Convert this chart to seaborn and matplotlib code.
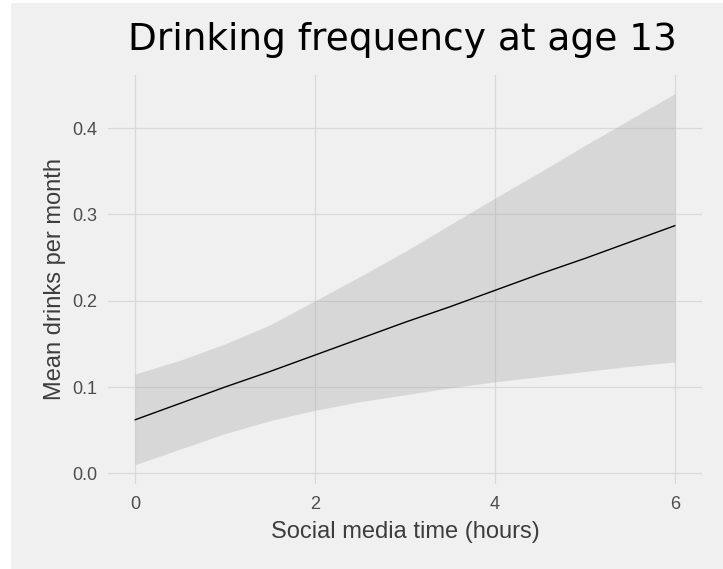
import numpy as np
import pandas as pd
import matplotlib
matplotlib.use("Agg")
import matplotlib.pyplot as plt
import seaborn as sns
from matplotlib.patches import Rectangle

# values
hours = [0, 0.5, 1, 1.5, 2, 2.5, 3, 3.5, 4, 4.5, 5, 5.5, 6]
mean_drinks = [0.062, 0.081, 0.100, 0.118, 0.137, 0.156, 0.175, 0.193,
               0.212, 0.231, 0.249, 0.268, 0.287]
upper_ci = [0.115, 0.131, 0.150, 0.172, 0.200, 0.228, 0.257, 0.288,
            0.319, 0.349, 0.380, 0.410, 0.440]
lower_ci = [0.010, 0.028, 0.046, 0.061, 0.073, 0.083, 0.091, 0.099,
            0.106, 0.112, 0.118, 0.124, 0.129]

x_ticks = [0, 2, 4, 6]
y_ticks = [0.0, 0.1, 0.2, 0.3, 0.4]

title = "Drinking frequency at age 13"
x_label = "Social media time (hours)"
y_label = "Mean drinks per month"

df = pd.DataFrame({"hours": hours, "mean": mean_drinks,
                   "lower": lower_ci, "upper": upper_ci})

sns.set_theme(style="white")
plt.rcParams["font.family"] = ["Liberation Sans", "DejaVu Sans"]

bg = "#f0f0f0"
fig = plt.figure(figsize=(7.23, 5.69), dpi=100, facecolor="white")
fig.patches.append(Rectangle((11 / 723, 0), 1, 1 - 3 / 569, transform=fig.transFigure,
                             facecolor=bg, edgecolor="none", zorder=-10))

ax = fig.add_axes([108 / 723, (569 - 483.6) / 569, 594 / 723, 408.6 / 569])
ax.set_facecolor(bg)

# confidence ribbon + fitted line
ax.fill_between(df["hours"], df["lower"], df["upper"], color="#a0a0a0",
                alpha=0.3, linewidth=0, zorder=2)
sns.lineplot(data=df, x="hours", y="mean", color="black", linewidth=1.0,
             ax=ax, zorder=3)

ax.set_xlim(-0.3, 6.3)
ax.set_ylim(-0.0119, 0.4615)
ax.set_xticks(x_ticks)
ax.set_xticklabels([str(t) for t in x_ticks])
ax.set_yticks(y_ticks)
ax.set_yticklabels([f"{t:.1f}" for t in y_ticks])

ax.grid(True, color="#d9d9d9", linewidth=0.9, zorder=1)
ax.set_axisbelow(True)
for s in ax.spines.values():
    s.set_visible(False)

ax.tick_params(axis="both", length=0, labelsize=13, labelcolor="#4d4d4d")
ax.tick_params(axis="x", pad=9)
ax.tick_params(axis="y", pad=8)

ax.set_xlabel(x_label, fontsize=17, color="#3d3d3d", labelpad=6)
ax.set_ylabel(y_label, fontsize=17, color="#3d3d3d", labelpad=4)

fig.text(402 / 723, 1 - 40 / 569, title, ha="center", va="center",
         fontsize=27, color="black", family=["DejaVu Sans"])

fig.savefig("out.png", dpi=100, facecolor=fig.get_facecolor())
